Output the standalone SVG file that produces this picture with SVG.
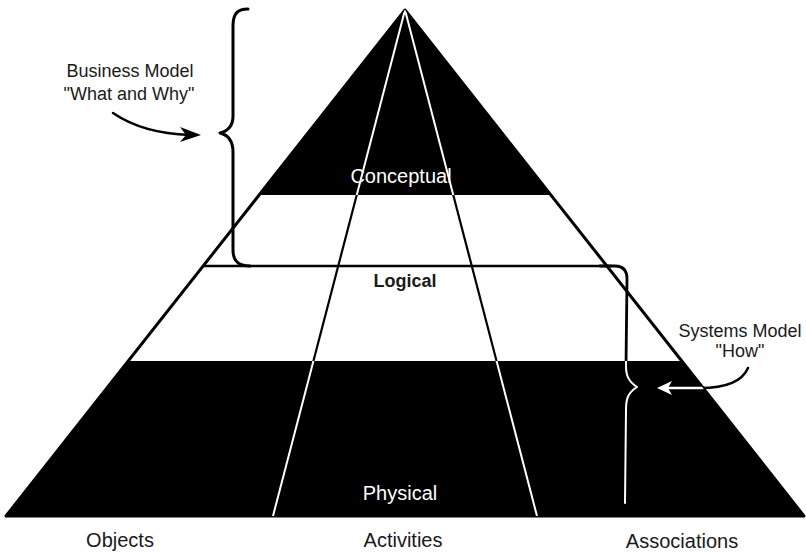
<svg xmlns="http://www.w3.org/2000/svg" width="806" height="554" viewBox="0 0 806 554">
<style>
.lbl{font-family:"Liberation Sans",Arial,sans-serif;font-size:20px;fill:#1a1a1a;text-anchor:middle}
.ann{font-family:"Liberation Sans",Arial,sans-serif;font-size:18px;fill:#1a1a1a;text-anchor:middle}
.wl{font-family:"Liberation Sans",Arial,sans-serif;font-size:20px;fill:#ffffff;text-anchor:middle}
.bk{fill:none;stroke:#000;stroke-linecap:round;stroke-linejoin:round}
.wh{fill:none;stroke:#fff;stroke-linecap:round;stroke-linejoin:round}
</style>
<defs>
<clipPath id="dark">
<polygon points="405,10 259.2,195 550.8,195"/>
<polygon points="128.4,361 681.6,361 804,516 6,516"/>
</clipPath>
</defs>
<rect width="806" height="554" fill="#fff"/>
<g id="pyramid">
<g id="conceptual">
<polygon points="405,10 259.2,195 550.8,195" fill="#000"/>
</g>
<g id="logical">
<polygon points="259.2,195 550.8,195 681.6,361 128.4,361" fill="#fff"/>
<line x1="203" y1="266" x2="612" y2="266" stroke="#000" stroke-width="2.5"/>
</g>
<g id="physical">
<polygon points="128.4,361 681.6,361 804,516 6,516" fill="#000"/>
</g>
<polygon points="405,10 804,516 6,516" fill="none" stroke="#000" stroke-width="3" stroke-linejoin="round"/>
<g id="columns">
<line x1="405" y1="10" x2="273" y2="516" stroke="#000" stroke-width="2.2"/>
<line x1="405" y1="10" x2="537" y2="516" stroke="#000" stroke-width="2.2"/>
<g clip-path="url(#dark)">
<line x1="405" y1="10" x2="273" y2="516" stroke="#fff" stroke-width="2"/>
<line x1="405" y1="10" x2="537" y2="516" stroke="#fff" stroke-width="2"/>
</g>
</g>
</g>
<g id="connectors">
<path class="bk" stroke-width="3" d="M248,9 C238,9 233,13 233,26 L233,116 C233,126 228,131 220,133 C228,135 233,140 233,152 L233,250 C233,261 238,266 250,266"/>
<path class="bk" stroke-width="2.8" d="M600,266 L615,266 C623,266 627,270 627,279 L626,366 C626,375 628,381 637,387 C628,393 626,398 626,410 L625,503"/>
<g clip-path="url(#dark)">
<path class="wh" stroke-width="2" d="M600,266 L615,266 C623,266 627,270 627,279 L626,366 C626,375 628,381 637,387 C628,393 626,398 626,410 L625,503"/>
</g>
<path class="bk" stroke-width="2.5" d="M113,113 C135,128 160,134 190,135"/>
<polygon points="201,135 180,127 186,135 180,142" fill="#000"/>
<path class="bk" stroke-width="2.5" d="M748,368 C742,382 725,388 700,388 L668,388"/>
<polygon points="657,388 672,381 668,388 672,395" fill="#000"/>
<g clip-path="url(#dark)">
<path class="wh" stroke-width="2.5" d="M748,368 C742,382 725,388 700,388 L668,388"/>
<polygon points="657,388 672,381 668,388 672,395" fill="#fff"/>
</g>
</g>
<g id="labels">
<text class="wl" x="401" y="183">Conceptual</text>
<text class="lbl" x="405" y="287" style="font-weight:bold;font-size:18px">Logical</text>
<text class="wl" x="400" y="500">Physical</text>
<text class="lbl" x="120" y="547">Objects</text>
<text class="lbl" x="403" y="547">Activities</text>
<text class="lbl" x="682" y="548">Associations</text>
</g>
<g id="business-model">
<text class="ann" x="130" y="77">Business Model</text>
<text class="ann" x="129" y="100">"What and Why"</text>
</g>
<g id="systems-model">
<text class="ann" x="740" y="337">Systems Model</text>
<text class="ann" x="740" y="357">"How"</text>
</g>
</svg>
